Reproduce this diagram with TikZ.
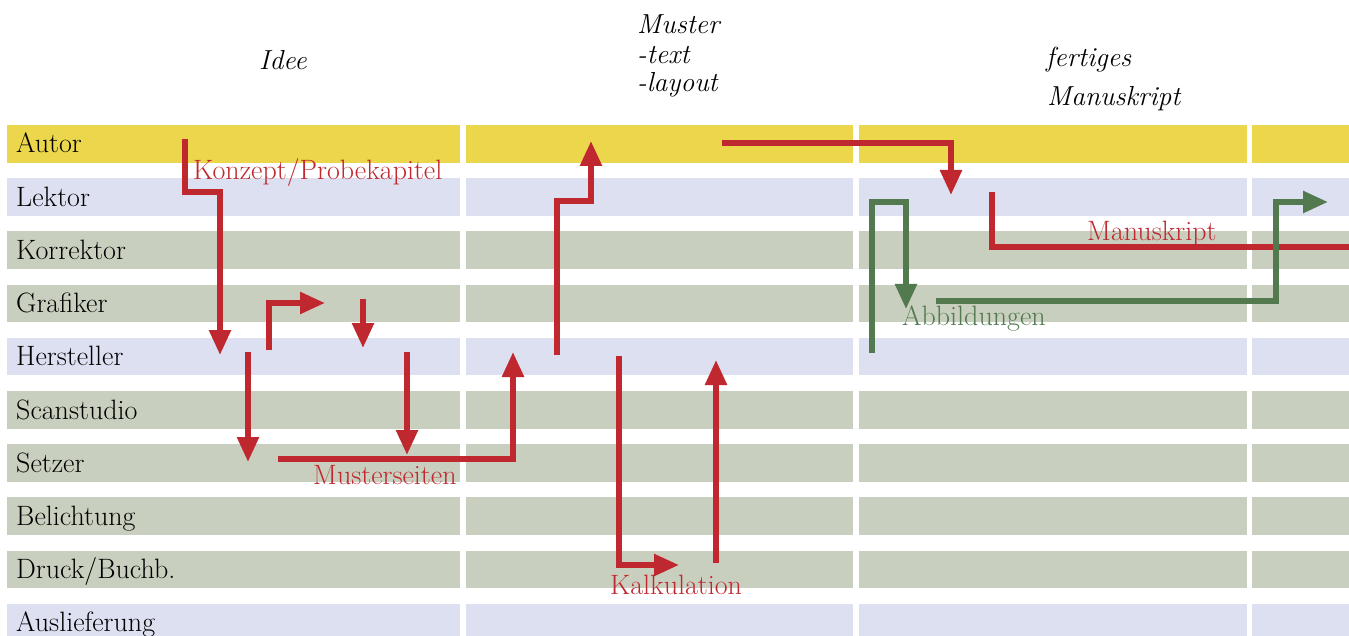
\documentclass[tikz,border=0pt]{standalone}
\usetikzlibrary{arrows.meta}
\definecolor{cyel}{RGB}{236,214,75}
\definecolor{cblu}{RGB}{220,224,240}
\definecolor{cgrn}{RGB}{201,207,190}
\definecolor{cred}{RGB}{192,40,48}
\definecolor{cgreen}{RGB}{82,122,78}
\tikzset{
  rowlabel/.style={anchor=base west,inner sep=0pt,font=\fontsize{28}{32}\selectfont},
  headtext/.style={anchor=base west,inner sep=0pt,font=\fontsize{27.5}{32}\selectfont\itshape},
  redlabel/.style={anchor=base west,inner sep=0pt,text=cred,font=\fontsize{28}{32}\selectfont},
  greenlabel/.style={anchor=base west,inner sep=0pt,text=cgreen,font=\fontsize{28}{32}\selectfont},
  redarrow/.style={draw=cred,line width=5.5pt,miter limit=10,-{Triangle[length=25pt,width=21pt]}},
  redline/.style={draw=cred,line width=5.5pt},
  greenarrow/.style={draw=cgreen,line width=5.5pt,-{Triangle[length=25pt,width=21pt]}},
  greenline/.style={draw=cgreen,line width=5.5pt},
}
\begin{document}
\begin{tikzpicture}[x=1pt,y=-1pt]
\useasboundingbox (0,0) rectangle (1349,636);
% rows
\foreach \i/\c in {0/cyel,1/cblu,2/cgrn,3/cgrn,4/cblu,5/cgrn,6/cgrn,7/cgrn,8/cgrn,9/cblu}{
  \pgfmathsetmacro{\t}{125+53.2*\i}
  \pgfmathsetmacro{\b}{min(\t+37.6,636)}
  \fill[\c] (6.7,\t) rectangle (460,\b);
  \fill[\c] (465.7,\t) rectangle (853.3,\b);
  \fill[\c] (859,\t) rectangle (1246.7,\b);
  \fill[\c] (1252,\t) rectangle (1349,\b);
}
% row labels
\node[rowlabel] (r0) at (16,153) {Autor};
\node[rowlabel] (r1) at (16,206.2) {Lektor};
\node[rowlabel] (r2) at (16,259.4) {Korrektor};
\node[rowlabel] (r3) at (16,312.6) {Grafiker};
\node[rowlabel] (r4) at (16,365.8) {Hersteller};
\node[rowlabel] (r5) at (16,419) {Scanstudio};
\node[rowlabel] (r6) at (16,472.2) {Setzer};
\node[rowlabel] (r7) at (16,525.4) {Belichtung};
\node[rowlabel] (r8) at (16,578.6) {Druck/Buchb.};
\node[rowlabel] (r9) at (16,631.8) {Auslieferung};
% headers
\node[headtext] (h1) at (259,70) {Idee};
\node[headtext] (h2a) at (637,34) {Muster};
\node[headtext] (h2b) at (637,64) {-text};
\node[headtext] (h2c) at (637,92) {-layout};
\node[headtext] (h3a) at (1046,67) {fertiges};
\node[headtext] (h3b) at (1047,106) {Manuskript};
% labels
\node[redlabel] (lk) at (193,180) {Konzept/Probekapitel};
\node[redlabel] (lm) at (313,484) {Musterseiten};
\node[redlabel] (lc) at (610,594) {Kalkulation};
\node[redlabel] (lmk) at (1087,241) {Manuskript};
\node[greenlabel] (la) at (902,326) {Abbildungen};
% coordinates
\coordinate (a0) at (185,139); \coordinate (a1) at (185,192); \coordinate (a2) at (220,192); \coordinate (a3) at (220,355);
\coordinate (b0) at (269,350); \coordinate (b1) at (269,303); \coordinate (b2) at (325,303);
\coordinate (c0) at (363,299); \coordinate (c1) at (363,348);
\coordinate (d0) at (248,352); \coordinate (d1) at (248,462);
\coordinate (e0) at (407,352); \coordinate (e1) at (407,455);
\coordinate (f0) at (278,459); \coordinate (f1) at (513,459); \coordinate (f2) at (513,352);
\coordinate (g0) at (557,355); \coordinate (g1) at (557,201); \coordinate (g2) at (591,201); \coordinate (g3) at (591,141);
\coordinate (i0) at (722,143); \coordinate (i1) at (951,143); \coordinate (i2) at (951,195);
\coordinate (j0) at (992,192); \coordinate (j1) at (992,247); \coordinate (j2) at (1349,247);
\coordinate (k0) at (872,353); \coordinate (k1) at (872,202); \coordinate (k2) at (906,202); \coordinate (k3) at (906,309);
\coordinate (m0) at (936,301); \coordinate (m1) at (1276,301); \coordinate (m2) at (1276,202); \coordinate (m3) at (1328,202);
\coordinate (n0) at (619,356); \coordinate (n1) at (619,565); \coordinate (n2) at (679,565);
\coordinate (p0) at (716,563); \coordinate (p1) at (716,360);
% arrows
\draw[redarrow] (a0) -- (a1) -- (a2) -- (a3);
\draw[redarrow] (b0) -- (b1) -- (b2);
\draw[redarrow] (c0) -- (c1);
\draw[redarrow] (d0) -- (d1);
\draw[redarrow] (e0) -- (e1);
\draw[redarrow] (f0) -- (f1) -- (f2);
\draw[redarrow] (g0) -- (g1) -- (g2) -- (g3);
\draw[redarrow] (i0) -- (i1) -- (i2);
\draw[redline] (j0) -- (j1) -- (j2);
\draw[greenarrow] (k0) -- (k1) -- (k2) -- (k3);
\draw[greenarrow] (m0) -- (m1) -- (m2) -- (m3);
\draw[redarrow] (n0) -- (n1) -- (n2);
\draw[redarrow] (p0) -- (p1);
\end{tikzpicture}
\end{document}
